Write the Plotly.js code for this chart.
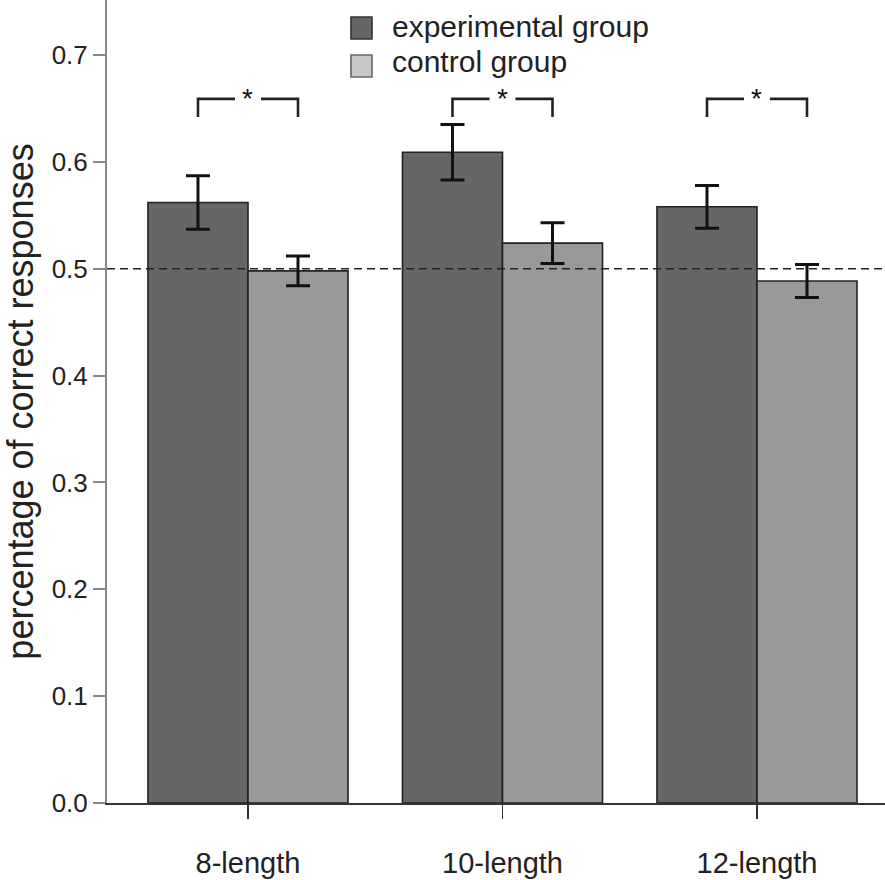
<!DOCTYPE html>
<html><head><meta charset="utf-8">
<script src="https://cdn.plot.ly/plotly-3.0.1.min.js"></script>
<style>html,body{margin:0;padding:0;background:#fff}#chart{width:885px;height:880px}</style>
</head><body><div id="chart"></div>
<script>
// ---- data ----
const categories = ['8-length', '10-length', '12-length'];
const seriesNames = ['experimental group', 'control group'];
const expMeans = [0.562, 0.609, 0.558];
const expErrors = [0.025, 0.026, 0.020];
const ctrlMeans = [0.498, 0.524, 0.4885];
const ctrlErrors = [0.014, 0.019, 0.0155];
const chanceLevel = 0.5;
const sigMarks = ['*', '*', '*'];
const sigLevel = 0.659;
const sigDrop = 0.017;
const yTickVals = [0, 0.1, 0.2, 0.3, 0.4, 0.5, 0.6, 0.7];
const yTitle = 'percentage of correct responses';

// ---- styling ----
const FONT = '"Liberation Sans", Arial, Helvetica, sans-serif';
const expColor = '#666666';
const ctrlColor = '#999999';
const ctrlLegendColor = '#c8c8c8';
const bargap = 0.214;
const halfBar = (1 - bargap) / 4;   // half width of one bar in x units
const starGap = 0.051;

const xs = categories.map((c, i) => i);

const traces = [
  {
    type: 'bar', name: seriesNames[0], x: xs, y: expMeans, showlegend: false,
    marker: {color: expColor, line: {color: '#222', width: 1.6}},
    error_y: {type: 'data', array: expErrors, visible: true, color: '#111', thickness: 3, width: 12}
  },
  {
    type: 'bar', name: seriesNames[1], x: xs, y: ctrlMeans, showlegend: false,
    marker: {color: ctrlColor, line: {color: '#222', width: 1.6}},
    error_y: {type: 'data', array: ctrlErrors, visible: true, color: '#111', thickness: 3, width: 12}
  }
];

const shapes = [
  {type: 'line', xref: 'paper', x0: 0, x1: 1, yref: 'y', y0: chanceLevel, y1: chanceLevel,
   line: {color: '#222', width: 1.6, dash: '8px,5px'}, layer: 'above'}
];
const annotations = [];

xs.forEach((x, i) => {
  const xl = x - halfBar, xr = x + halfBar;
  shapes.push({type: 'path', xref: 'x', yref: 'y',
    path: `M${xl},${sigLevel - sigDrop} L${xl},${sigLevel} L${x - starGap},${sigLevel}`,
    line: {color: '#222', width: 2.6}});
  shapes.push({type: 'path', xref: 'x', yref: 'y',
    path: `M${x + starGap},${sigLevel} L${xr},${sigLevel} L${xr},${sigLevel - sigDrop}`,
    line: {color: '#222', width: 2.6}});
  annotations.push({xref: 'x', yref: 'y', x: x, y: sigLevel, text: sigMarks[i], showarrow: false,
    xanchor: 'center', yanchor: 'middle', font: {family: FONT, size: 28, color: '#111'}});
});

// legend drawn manually (swatch colours differ from the bars)
const legendItems = [
  {name: seriesNames[0], fill: expColor, border: '#333', y0: 0.9514, y1: 0.9788, ty: 0.9676},
  {name: seriesNames[1], fill: ctrlLegendColor, border: '#666', y0: 0.9041, y1: 0.9315, ty: 0.9228}
];
legendItems.forEach(it => {
  shapes.push({type: 'rect', xref: 'paper', yref: 'paper', x0: 0.3136, x1: 0.3406, y0: it.y0, y1: it.y1,
    fillcolor: it.fill, line: {color: it.border, width: 1.6}});
  annotations.push({xref: 'paper', yref: 'paper', x: 0.3638, y: it.ty, xanchor: 'left', yanchor: 'middle',
    text: it.name, showarrow: false, font: {family: FONT, size: 30, color: '#222'}});
});

const layout = {
  width: 885, height: 880,
  margin: {l: 107, r: 0, t: 0, b: 77, pad: 0},
  paper_bgcolor: '#fff', plot_bgcolor: '#fff',
  font: {family: FONT, color: '#222'},
  barmode: 'group', bargap: bargap, bargroupgap: 0,
  showlegend: false,
  xaxis: {
    range: [-0.554, 2.503], tickvals: xs, ticktext: categories,
    showline: true, linecolor: '#333', linewidth: 2,
    ticks: 'outside', ticklen: 14, tickcolor: '#333', tickwidth: 1.5,
    tickfont: {family: FONT, size: 29, color: '#222'}, ticklabelstandoff: 19,
    showgrid: false, zeroline: false
  },
  yaxis: {
    range: [0, 0.7515], tickvals: yTickVals, tickformat: '.1f',
    showline: true, linecolor: '#888', linewidth: 2,
    ticks: 'outside', ticklen: 12, tickcolor: '#888', tickwidth: 2,
    tickfont: {family: FONT, size: 26, color: '#222'},
    showgrid: false, zeroline: false,
    title: {text: yTitle, font: {family: FONT, size: 36, color: '#222'}, standoff: 8}
  },
  shapes: shapes,
  annotations: annotations
};

Plotly.newPlot('chart', traces, layout, {displayModeBar: false, staticPlot: true});
</script>
</body></html>
